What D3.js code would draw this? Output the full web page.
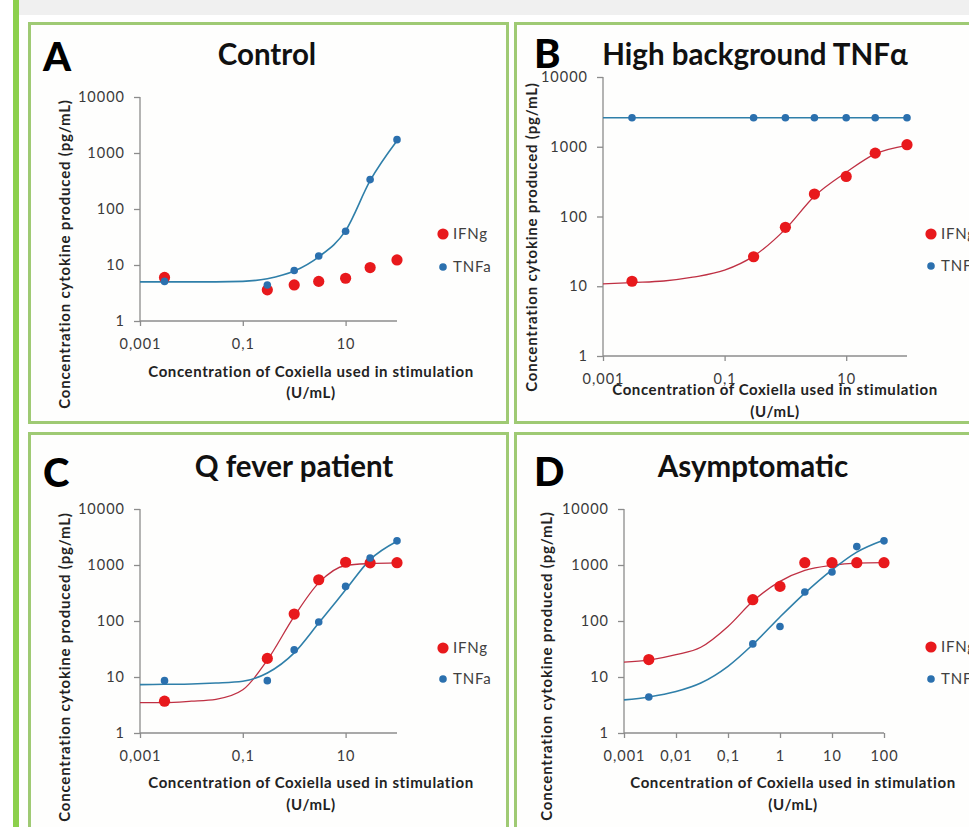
<!DOCTYPE html>
<html>
<head>
<meta charset="utf-8">
<script src="https://cdn.jsdelivr.net/npm/d3@7/dist/d3.min.js"></script>
<style>
  html, body { margin: 0; padding: 0; background: #ffffff; }
  svg { display: block; }
  text { font-family: Lato, "Open Sans", sans-serif; }
</style>
</head>
<body>
<svg id="chart" width="969" height="827"></svg>
<script>
// ---------------- DATA ----------------
const panelLetters = ["A", "B", "C", "D"];
const panelTitles = ["Control", "High background TNFα", "Q fever patient", "Asymptomatic"];
const seriesNames = ["IFNg", "TNFa"];
const xAxisTitle = ["Concentration of Coxiella used in stimulation", "(U/mL)"];
const yAxisTitle = "Concentration cytokine produced (pg/mL)";

// stimulation concentrations (U/mL) of the measured points
const concentrations = [0.003, 0.3, 1, 3, 10, 30, 100];

// measured cytokine (pg/mL)
const ifngControl = [6.0, 3.6, 4.4, 5.1, 5.8, 9.0, 12.3];
const tnfaControl = [5.1, 4.4, 8.0, 14.5, 40, 335, 1730];
const ifngHighBg  = [11.8, 26.5, 70, 210, 375, 810, 1070];
const tnfaHighBg  = [2600, 2600, 2600, 2600, 2600, 2600, 2600];
const ifngQfever  = [3.7, 21.5, 133, 545, 1120, 1090, 1100];
const tnfaQfever  = [8.6, 8.6, 30.5, 96, 415, 1330, 2700];
const ifngAsym    = [20.5, 240, 415, 1100, 1100, 1100, 1100];
const tnfaAsym    = [4.4, 39, 80, 330, 750, 2130, 2700];

// fitted trend curves
const curveConc = [0.001, 0.003, 0.01, 0.03, 0.1, 0.3, 1, 3, 10, 30, 100];
const tnfaControlFit = [5.0, 5.0, 5.0, 5.0, 5.1, 5.7, 7.8, 14, 41, 320, 1650];
const ifngHighBgFit  = [10.8, 11.3, 11.9, 13.5, 17, 27, 66, 195, 430, 790, 1050];
const tnfaHighBgFit  = [2600, 2600, 2600, 2600, 2600, 2600, 2600, 2600, 2600, 2600, 2600];
const ifngQfeverFit  = [3.5, 3.5, 3.7, 4.0, 5.9, 20, 121, 480, 980, 1060, 1090];
const tnfaQfeverFit  = [7.3, 7.4, 7.5, 7.8, 8.4, 11.8, 27, 92, 360, 1250, 2660];
const ifngAsymFit    = [18.5, 20, 25, 34, 80, 225, 510, 800, 990, 1080, 1100];
const tnfaAsymFit    = [3.9, 4.4, 5.5, 7.8, 15.5, 38, 118, 315, 820, 1700, 2800];

// axis ticks
const yTicks = [1, 10, 100, 1000, 10000];
const xTicksSparse = [0.001, 0.1, 10];
const xTicksFull = [0.001, 0.01, 0.1, 1, 10, 100];
const xTickLabel = v => String(v).replace(".", ",");

// ---------------- LAYOUT ----------------
const panels = [
  { ifng: ifngControl, tnfa: tnfaControl, ifngFit: null, tnfaFit: tnfaControlFit, xTicks: xTicksSparse,
    box: [28, 22, 481, 402], ax: 140, top: 97, bottom: 321, right: 397,
    letter: [43, 71], title: [267, 65], legend: [443, 234, 267],
    xTitle: [311, 377, 398], yTitle: [65, 254] },
  { ifng: ifngHighBg, tnfa: tnfaHighBg, ifngFit: ifngHighBgFit, tnfaFit: tnfaHighBgFit, xTicks: xTicksSparse,
    box: [514, 22, 520, 402], ax: 603, top: 77, bottom: 356, right: 907,
    letter: [534, 68], title: [755, 65], legend: [931, 234, 266],
    xTitle: [775, 395, 417], yTitle: [532, 237] },
  { ifng: ifngQfever, tnfa: tnfaQfever, ifngFit: ifngQfeverFit, tnfaFit: tnfaQfeverFit, xTicks: xTicksSparse,
    box: [28, 432, 481, 420], ax: 140, top: 509, bottom: 733, right: 397,
    letter: [43, 487], title: [294, 477], legend: [443, 648, 679],
    xTitle: [311, 788, 810], yTitle: [65, 667] },
  { ifng: ifngAsym, tnfa: tnfaAsym, ifngFit: ifngAsymFit, tnfaFit: tnfaAsymFit, xTicks: xTicksFull,
    box: [514, 432, 520, 420], ax: 624, top: 509, bottom: 733, right: 884,
    letter: [534, 486], title: [753, 477], legend: [931, 647, 679],
    xTitle: [793, 788, 810], yTitle: [547, 666] }
];

const colors = {
  ifngDot: "#e8191c", tnfaDot: "#2b70ae",
  ifngLine: "#bf3043", tnfaLine: "#2f7fa9",
  axis: "#8c8c8c", tickText: "#3a3a3a", border: "#9fca74", bar: "#8cd04c"
};

const svg = d3.select("#chart");

// page background pieces
svg.append("rect").attr("x", 0).attr("y", 0).attr("width", 969).attr("height", 827).attr("fill", "#ffffff");
svg.append("rect").attr("x", 19).attr("y", 0).attr("width", 950).attr("height", 15).attr("fill", "#f0f0f0");
svg.append("rect").attr("x", 13).attr("y", 0).attr("width", 6).attr("height", 827).attr("fill", colors.bar);

panels.forEach((p, i) => {
  const g = svg.append("g");
  // frame
  g.append("rect")
    .attr("x", p.box[0] + 1.5).attr("y", p.box[1] + 1.5)
    .attr("width", p.box[2] - 3).attr("height", p.box[3] - 3)
    .attr("fill", "#fefefd").attr("stroke", colors.border).attr("stroke-width", 3);

  const x = d3.scaleLog().domain([0.001, 100]).range([p.ax, p.right]);
  const y = d3.scaleLog().domain([1, 10000]).range([p.bottom, p.top]);

  // y axis
  const yAxis = d3.axisLeft(y).tickValues(yTicks).tickFormat(d3.format("d")).tickSize(6).tickPadding(9);
  const ya = g.append("g").attr("transform", `translate(${p.ax},0)`).call(yAxis);
  // x axis
  const xAxis = d3.axisBottom(x).tickValues(p.xTicks).tickFormat(xTickLabel).tickSize(5).tickPadding(13);
  const xa = g.append("g").attr("transform", `translate(0,${p.bottom})`).call(xAxis);
  [ya, xa].forEach(a => {
    a.select(".domain").attr("stroke", colors.axis).attr("stroke-width", 1.3);
    a.selectAll(".tick line").attr("stroke", colors.axis).attr("stroke-width", 1.3);
    a.selectAll(".tick text").attr("fill", colors.tickText)
      .style("font-family", "Lato, sans-serif").style("font-size", "14.5px")
      .style("letter-spacing", "1px");
  });
  ya.select(".domain").attr("d", `M0,${p.bottom}V${p.top}`);
  xa.select(".domain").attr("d", `M${p.ax},0H${p.right}`);

  // trend curves
  const line = d3.line()
    .x(d => x(d[0])).y(d => y(d[1]))
    .curve(d3.curveMonotoneX);
  if (p.ifngFit) {
    g.append("path").datum(curveConc.map((c, k) => [c, p.ifngFit[k]]))
      .attr("d", line).attr("fill", "none").attr("stroke", colors.ifngLine).attr("stroke-width", 1.3);
  }
  if (p.tnfaFit) {
    g.append("path").datum(curveConc.map((c, k) => [c, p.tnfaFit[k]]))
      .attr("d", line).attr("fill", "none").attr("stroke", colors.tnfaLine).attr("stroke-width", 1.6);
  }

  // markers
  g.append("g").selectAll("circle").data(concentrations.map((c, k) => [c, p.ifng[k]])).join("circle")
    .attr("cx", d => x(d[0])).attr("cy", d => y(d[1])).attr("r", 5.6).attr("fill", colors.ifngDot);
  g.append("g").selectAll("circle").data(concentrations.map((c, k) => [c, p.tnfa[k]])).join("circle")
    .attr("cx", d => x(d[0])).attr("cy", d => y(d[1])).attr("r", 3.8).attr("fill", colors.tnfaDot);

  // legend
  g.append("circle").attr("cx", p.legend[0]).attr("cy", p.legend[1]).attr("r", 5.6).attr("fill", colors.ifngDot);
  g.append("circle").attr("cx", p.legend[0]).attr("cy", p.legend[2]).attr("r", 3.8).attr("fill", colors.tnfaDot);
  [p.legend[1], p.legend[2]].forEach((ly, k) => {
    g.append("text").attr("x", p.legend[0] + 10).attr("y", ly).attr("dy", "0.36em")
      .attr("fill", "#404040").style("font-size", "15px").style("letter-spacing", "0.8px").text(seriesNames[k]);
  });

  // panel letter and title
  g.append("text").attr("x", p.letter[0]).attr("y", p.letter[1])
    .style("font-size", "40px").style("font-weight", 900).attr("fill", "#000").text(panelLetters[i]);
  g.append("text").attr("x", p.title[0]).attr("y", p.title[1]).attr("text-anchor", "middle")
    .style("font-size", "29.5px").style("font-weight", 700).attr("fill", "#111").text(panelTitles[i]);

  // axis titles
  g.append("text").attr("x", p.xTitle[0]).attr("y", p.xTitle[1]).attr("text-anchor", "middle")
    .style("font-size", "15px").style("font-weight", 700).style("letter-spacing", "0.6px")
    .attr("fill", "#222").text(xAxisTitle[0]);
  g.append("text").attr("x", p.xTitle[0]).attr("y", p.xTitle[2]).attr("text-anchor", "middle")
    .style("font-size", "15px").style("font-weight", 700).style("letter-spacing", "0.6px")
    .attr("fill", "#222").text(xAxisTitle[1]);
  g.append("text")
    .attr("transform", `translate(${p.yTitle[0]},${p.yTitle[1]}) rotate(-90)`)
    .attr("text-anchor", "middle").attr("dy", "0.35em")
    .style("font-size", "15px").style("font-weight", 700).style("letter-spacing", "0.8px")
    .attr("fill", "#222").text(yAxisTitle);
});
</script>
</body>
</html>
